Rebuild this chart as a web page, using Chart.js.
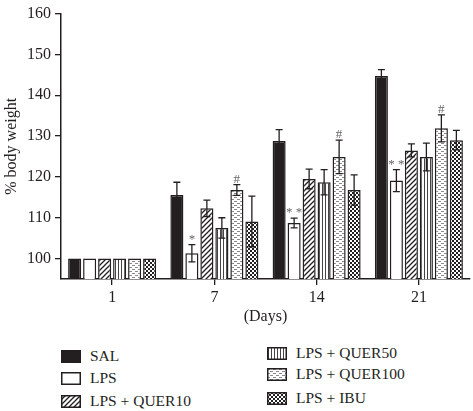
<!DOCTYPE html>
<html>
<head>
<meta charset="utf-8">
<script src="https://cdn.jsdelivr.net/npm/chart.js@4"></script>
<style>
body { margin: 0; background: #fff; }
#wrap { position: relative; width: 473px; height: 411px; }
#grafico { position: absolute; left: 0; top: 0; }
.item { position: absolute; font: 15.5px "Liberation Serif", serif; color: #231f20; white-space: nowrap; line-height: 16px; }
.item canvas { position: absolute; left: 0; top: 2px; }
.item span { position: absolute; left: 29px; top: 0; }
</style>
</head>
<body>
<div id="wrap">
<canvas id="grafico" width="473" height="330"></canvas>
<div id="leyenda"></div>
</div>
<script>
// datos
const dias = ['1', '7', '14', '21'];
const nombres = ['SAL', 'LPS', 'LPS + QUER10', 'LPS + QUER50', 'LPS + QUER100', 'LPS + IBU'];
const sal = [100, 115.6, 128.8, 144.7];
const salErr = [0, 3.1, 2.8, 1.6];
const lps = [100, 101.3, 108.7, 119.1];
const lpsErr = [0, 2.1, 1.2, 2.7];
const quer10 = [100, 112.3, 119.5, 126.5];
const quer10Err = [0, 2.0, 2.4, 1.6];
const quer50 = [100, 107.5, 118.7, 124.9];
const quer50Err = [0, 2.5, 3.1, 3.4];
const quer100 = [100, 116.8, 124.9, 131.9];
const quer100Err = [0, 1.3, 4.1, 3.3];
const ibu = [100, 109.1, 116.8, 129.0];
const ibuErr = [0, 6.2, 3.7, 2.4];
const lpsMarcas = ['', '*', '* *', '* *'];
const quer100Marcas = ['', '#', '#', '#'];
const yTicks = [100, 110, 120, 130, 140, 150, 160];

const oscuro = '#231f20';

function crearPatron(tipo) {
    const c = document.createElement('canvas');
    const g = c.getContext('2d');
    if (tipo === 'solido') {
        c.width = 4; c.height = 4;
        g.fillStyle = oscuro; g.fillRect(0, 0, 4, 4);
    } else if (tipo === 'blanco') {
        c.width = 4; c.height = 4;
        g.fillStyle = '#fff'; g.fillRect(0, 0, 4, 4);
    } else if (tipo === 'diagonal') {
        c.width = 5; c.height = 5;
        g.fillStyle = '#fff'; g.fillRect(0, 0, 5, 5);
        g.strokeStyle = oscuro; g.lineWidth = 1.3;
        g.beginPath();
        g.moveTo(-1, 6); g.lineTo(6, -1);
        g.moveTo(-1, 1); g.lineTo(1, -1);
        g.moveTo(4, 6); g.lineTo(6, 4);
        g.stroke();
    } else if (tipo === 'vertical') {
        c.width = 3; c.height = 3;
        g.fillStyle = '#fff'; g.fillRect(0, 0, 3, 3);
        g.fillStyle = '#444'; g.fillRect(1, 0, 1, 3);
    } else if (tipo === 'guiones') {
        c.width = 6; c.height = 4;
        g.fillStyle = '#fff'; g.fillRect(0, 0, 6, 4);
        g.fillStyle = '#8a8a8a';
        g.fillRect(0, 1, 3, 1);
        g.fillRect(3, 3, 3, 1);
    } else if (tipo === 'damero') {
        c.width = 4; c.height = 4;
        g.fillStyle = '#fff'; g.fillRect(0, 0, 4, 4);
        g.fillStyle = oscuro;
        g.fillRect(0, 0, 2, 2); g.fillRect(2, 2, 2, 2);
    }
    return c;
}

const tipos = ['solido', 'blanco', 'diagonal', 'vertical', 'guiones', 'damero'];
const valores = [sal, lps, quer10, quer50, quer100, ibu];
const errores = [salErr, lpsErr, quer10Err, quer50Err, quer100Err, ibuErr];
const marcas = [null, lpsMarcas, null, null, quer100Marcas, null];

const ctx = document.getElementById('grafico').getContext('2d');

const datasets = nombres.map((n, i) => ({
    label: n,
    data: valores[i],
    backgroundColor: ctx.createPattern(crearPatron(tipos[i]), 'repeat'),
    borderColor: oscuro,
    borderWidth: 1.5,
    categoryPercentage: 0.88,
    barPercentage: 0.87
}));

// barras de error y marcas de significancia
const pluginErrores = {
    id: 'errores',
    afterDatasetsDraw(chart) {
        const c = chart.ctx;
        const y = chart.scales.y;
        c.save();
        chart.data.datasets.forEach((ds, i) => {
            const meta = chart.getDatasetMeta(i);
            meta.data.forEach((bar, j) => {
                const v = ds.data[j];
                const e = errores[i][j];
                const yTop = y.getPixelForValue(v + e);
                if (e > 0) {
                    const yBot = y.getPixelForValue(v - e);
                    c.strokeStyle = oscuro;
                    c.lineWidth = 1.3;
                    c.beginPath();
                    c.moveTo(bar.x, yTop); c.lineTo(bar.x, yBot);
                    c.moveTo(bar.x - 3.5, yTop); c.lineTo(bar.x + 3.5, yTop);
                    c.moveTo(bar.x - 3.5, yBot); c.lineTo(bar.x + 3.5, yBot);
                    c.stroke();
                }
                if (marcas[i] && marcas[i][j]) {
                    c.fillStyle = '#666';
                    c.font = '13px "Liberation Serif", serif';
                    c.textAlign = 'center';
                    c.textBaseline = 'alphabetic';
                    c.fillText(marcas[i][j], bar.x, yTop - 2);
                }
            });
        });
        c.restore();
    }
};

new Chart(ctx, {
    type: 'bar',
    data: { labels: dias, datasets: datasets },
    options: {
        responsive: false,
        animation: false,
        layout: { padding: { top: 5, right: 3, left: 0, bottom: 0 } },
        plugins: {
            legend: { display: false },
            tooltip: { enabled: false }
        },
        scales: {
            x: {
                offset: true,
                grid: { offset: false, drawOnChartArea: false, color: oscuro, tickLength: 6, lineWidth: 1.3 },
                border: { color: oscuro, width: 1.5 },
                ticks: { color: oscuro, font: { family: '"Liberation Serif", serif', size: 16 }, padding: 3 },
                title: { display: true, text: '(Days)', color: oscuro, font: { family: '"Liberation Serif", serif', size: 16 }, padding: { top: 3 } },
                afterFit(scale) { scale.height = 51; }
            },
            y: {
                min: 95,
                max: 160,
                afterBuildTicks(scale) { scale.ticks = yTicks.map(v => ({ value: v })); },
                grid: { drawOnChartArea: false, color: oscuro, tickLength: 6, lineWidth: 1.3 },
                border: { color: oscuro, width: 1.5 },
                ticks: { color: oscuro, font: { family: '"Liberation Serif", serif', size: 16 }, padding: 4 },
                title: { display: true, text: '% body weight', color: oscuro, font: { family: '"Liberation Serif", serif', size: 16 }, padding: 2 },
                afterFit(scale) { scale.width = 61; }
            }
        }
    },
    plugins: [pluginErrores]
});

// leyenda en dos columnas
const posiciones = [[61, 348], [61, 370], [61, 393], [267, 345], [267, 366], [267, 390]];
const leyenda = document.getElementById('leyenda');
nombres.forEach((n, i) => {
    const item = document.createElement('div');
    item.className = 'item';
    item.style.left = posiciones[i][0] + 'px';
    item.style.top = posiciones[i][1] + 'px';
    const sw = document.createElement('canvas');
    sw.width = 20; sw.height = 13;
    const g = sw.getContext('2d');
    g.fillStyle = g.createPattern(crearPatron(tipos[i]), 'repeat');
    g.fillRect(0, 0, 20, 13);
    g.strokeStyle = oscuro; g.lineWidth = 1.5;
    g.strokeRect(0.75, 0.75, 18.5, 11.5);
    const txt = document.createElement('span');
    txt.textContent = n;
    item.appendChild(sw);
    item.appendChild(txt);
    leyenda.appendChild(item);
});
</script>
</body>
</html>
